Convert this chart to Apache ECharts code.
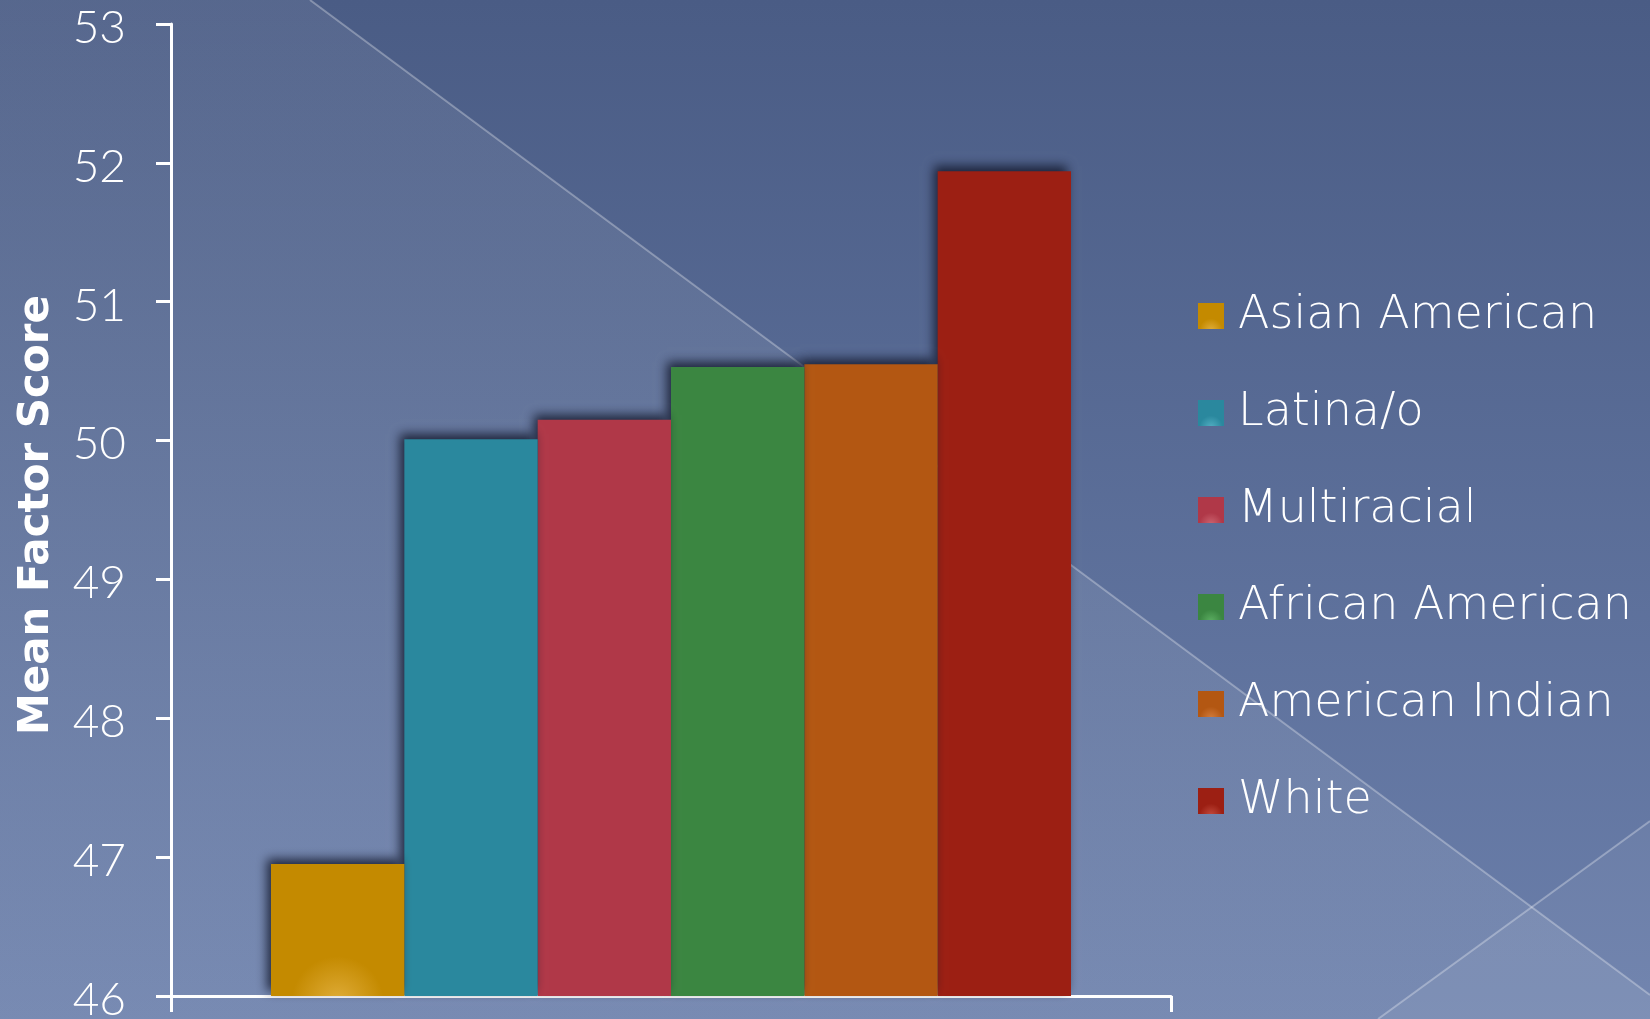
<!DOCTYPE html>
<html>
<head>
<meta charset="utf-8">
<style>
  html, body { margin: 0; padding: 0; }
  #chart { width: 1650px; height: 1019px; }
</style>
<script src="https://cdn.jsdelivr.net/npm/echarts@6/dist/echarts.min.js"></script>
</head>
<body>
<div id="chart"></div>
<script>
// Mean factor score by racial/ethnic group
const groups = ['Asian American', 'Latina/o', 'Multiracial', 'African American', 'American Indian', 'White'];
const meanScores = [46.95, 50.01, 50.15, 50.53, 50.55, 51.94];
const barColors = ['#c48a00', '#2a889e', '#b03848', '#3b8641', '#b35712', '#9c1f13'];
const glowColors = ['#e0ad3a', '#52aec2', '#cc6470', '#5cae62', '#d27c3c', '#c24a3c'];
const yTicks = { min: 46, max: 53, step: 1 };

const TICK_FONT = 'Lato, "Open Sans", sans-serif';
const TEXT_FONT = '"DejaVu Sans", sans-serif';

// soft highlight at the bottom centre of a swatch
function glowFill(i, r) {
  return {
    type: 'radial', x: 0.5, y: 1.05, r: r,
    colorStops: [
      { offset: 0, color: glowColors[i] },
      { offset: 1, color: barColors[i] }
    ]
  };
}

const chart = echarts.init(document.getElementById('chart'), null, { renderer: 'canvas' });

const series = groups.map((name, i) => ({
  name: name,
  type: 'bar',
  z: 20 - i,
  barGap: '0%',
  barCategoryGap: '20%',
  data: [meanScores[i]],
  itemStyle: {
    color: i === 0 ? glowFill(i, 0.35) : barColors[i],
    shadowColor: 'rgba(18, 24, 44, 0.85)',
    shadowBlur: 10,
    shadowOffsetX: -4,
    shadowOffsetY: -5
  },
  emphasis: { disabled: true }
}));

chart.setOption({
  animation: false,
  backgroundColor: {
    type: 'linear', x: 0, y: 0, x2: 0, y2: 1,
    colorStops: [
      { offset: 0, color: '#4a5c85' },
      { offset: 1, color: '#6b7fab' }
    ]
  },
  graphic: [
    {
      type: 'polygon', silent: true, z: -10,
      shape: { points: [[0, 0], [310, 0], [1650, 995], [1650, 1019], [0, 1019]] },
      style: {
        fill: {
          type: 'linear', x: 0, y: 0, x2: 0, y2: 1,
          colorStops: [
            { offset: 0, color: 'rgba(255,255,255,0.07)' },
            { offset: 1, color: 'rgba(255,255,255,0.09)' }
          ]
        }
      }
    },
    {
      type: 'polygon', silent: true, z: -9,
      shape: { points: [[1378, 1019], [1650, 821], [1650, 1019]] },
      style: { fill: 'rgba(255,255,255,0.05)' }
    },
    {
      type: 'line', silent: true, z: -8,
      shape: { x1: 310, y1: 0, x2: 1650, y2: 995 },
      style: { stroke: 'rgba(255,255,255,0.3)', lineWidth: 2 }
    },
    {
      type: 'line', silent: true, z: -8,
      shape: { x1: 1378, y1: 1019, x2: 1650, y2: 821 },
      style: { stroke: 'rgba(255,255,255,0.3)', lineWidth: 2 }
    }
  ],
  grid: {
    left: 171, right: 479, top: 24, bottom: 23,
    containLabel: false,
    outerBoundsMode: 'none'
  },
  legend: {
    orient: 'vertical',
    left: 1193,
    top: 283,
    itemWidth: 26,
    itemHeight: 26,
    itemGap: 41,
    icon: 'rect',
    selectedMode: false,
    data: groups.map((name, i) => ({ name: name, itemStyle: { color: glowFill(i, 0.45) } })),
    textStyle: {
      color: '#ffffff',
      fontFamily: TEXT_FONT,
      fontWeight: 200,
      fontSize: 46,
      lineHeight: 50,
      padding: [6, 0, 0, 9]
    }
  },
  xAxis: {
    type: 'category',
    data: [''],
    axisLine: { lineStyle: { color: '#ffffff', width: 3 } },
    axisTick: { show: true, length: 16, lineStyle: { color: '#ffffff', width: 3 } },
    axisLabel: { show: false },
    splitLine: { show: false }
  },
  yAxis: {
    type: 'value',
    min: yTicks.min,
    max: yTicks.max,
    interval: yTicks.step,
    name: 'Mean Factor Score',
    nameLocation: 'middle',
    nameRotate: 90,
    nameGap: 113,
    nameTextStyle: {
      color: '#ffffff',
      fontFamily: TEXT_FONT,
      fontWeight: 'bold',
      fontSize: 42,
      padding: [0, 10, 0, 0]
    },
    axisLine: { show: true, lineStyle: { color: '#ffffff', width: 3 } },
    axisTick: { show: true, length: 15, lineStyle: { color: '#ffffff', width: 3 } },
    axisLabel: {
      margin: 45,
      formatter: '{v|{value}}',
      rich: {
        v: {
          color: '#ffffff',
          fontFamily: TICK_FONT,
          fontWeight: 300,
          fontSize: 46,
          lineHeight: 46,
          padding: [8, 0, 0, 0]
        }
      }
    },
    splitLine: { show: false }
  },
  series: series
});
</script>
</body>
</html>
